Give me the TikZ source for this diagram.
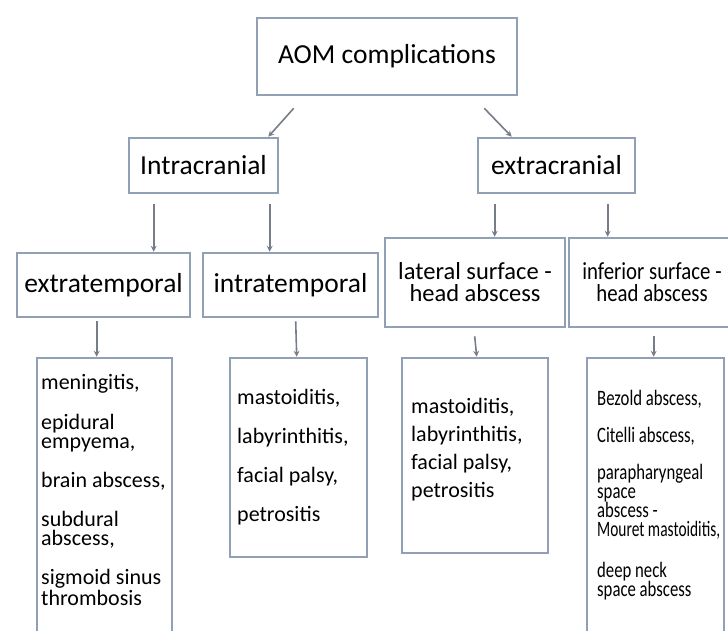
\documentclass[tikz,border=0pt]{standalone}
\usepackage{fontspec}
\setmainfont{Carlito}
\newfontfamily\narrowfont[FakeStretch=0.85]{Carlito}
\newfontfamily\slimfont[FakeStretch=0.76]{Carlito}
\newfontfamily\tightfont[FakeStretch=0.7]{Carlito}

\definecolor{boxline}{RGB}{146,160,182}
\definecolor{arrowline}{RGB}{118,124,136}

\begin{document}
\begin{tikzpicture}[x=1pt, y=-1pt,
    box/.style={draw=boxline, line width=2.6pt, fill=white, inner sep=0pt, align=center},
    arr/.style={->, >=stealth, draw=arrowline, line width=1.6pt},
    big/.style={font=\fontsize{27.5}{30}\selectfont},
    listtext/.style={anchor=base west, inner sep=0pt, align=left, font=\fontsize{22}{19}\selectfont}]
    \useasboundingbox (0,0) rectangle (728,630);
    % top of the tree
    \node[box, big, minimum width=260pt, minimum height=77pt] (aom) at (387,56.5) {AOM complications};
    \node[box, big, minimum width=149pt, minimum height=55pt] (intra) at (203.5,165.5) {Intracranial};
    \node[box, big, minimum width=157pt, minimum height=55pt] (extra) at (556.5,165.5) {extracranial};
    % third row
    \node[box, big, minimum width=173pt, minimum height=64pt] (extemp) at (103.5,285) {extratemporal};
    \node[box, big, minimum width=175pt, minimum height=64pt] (intemp) at (290.5,285) {\raisebox{3pt}{intratemporal}};
    \node[box, font=\fontsize{24.5}{22}\selectfont, minimum width=180pt, minimum height=89pt] (lateral) at (475,282.5) {lateral surface -\\head abscess};
    \node[box, font=\narrowfont\fontsize{24.5}{22}\selectfont, minimum width=166pt, minimum height=89pt] (inferior) at (652,282.5) {inferior surface -\\head abscess};
    % lists (base anchor sits on the last line)
    \node[box, minimum width=135pt, minimum height=292pt] (menbox) at (104.5,504) {};
    \node[box, minimum width=137pt, minimum height=199pt] (mastbox) at (298.5,457.5) {};
    \node[box, minimum width=146pt, minimum height=195pt] (latbox) at (475,455.5) {};
    \node[box, minimum width=137pt, minimum height=292pt] (infbox) at (655.5,504) {};
    \node[listtext] (menlist) at (41,605) {meningitis,\\[20pt]epidural\\empyema,\\[20pt]brain abscess,\\[20pt]subdural\\abscess,\\[20pt]sigmoid sinus\\thrombosis};
    \node[listtext] (mastlist) at (237,521) {mastoiditis,\\[20pt]labyrinthitis,\\[20pt]facial palsy,\\[20pt]petrositis};
    \node[listtext] (latlist) at (411,497) {mastoiditis,\\[9pt]labyrinthitis,\\[9pt]facial palsy,\\[9pt]petrositis};
    \node[listtext, font=\slimfont\fontsize{22}{19}\selectfont] (inflist) at (597,596) {Bezold abscess,\\[18pt]Citelli abscess,\\[18pt]parapharyngeal\\space\\abscess -\\{\tightfont Mouret mastoiditis,}\\[22pt]deep neck\\space abscess};
    % connectors
    \draw[arr] ([xshift=38pt,yshift=-12pt]aom.south west) -- ([xshift=-11pt]intra.north east);
    \draw[arr] ([xshift=-34pt,yshift=-12pt]aom.south east) -- ([xshift=35pt]extra.north west);
    \draw[arr] ([xshift=26pt,yshift=-10pt]intra.south west) -- ([xshift=138pt]extemp.north west);
    \draw[arr] ([xshift=142pt,yshift=-10pt]intra.south west) -- ([xshift=68pt]intemp.north west);
    \draw[arr] ([xshift=18pt,yshift=-10pt]extra.south west) -- ([xshift=111pt]lateral.north west);
    \draw[arr] ([xshift=131pt,yshift=-10pt]extra.south west) -- ([xshift=40pt]inferior.north west);
    \draw[arr] ([xshift=81pt,yshift=-3pt]extemp.south west) -- ([xshift=61pt]menbox.north west);
    \draw[arr] ([xshift=94pt,yshift=-3pt]intemp.south west) -- ([xshift=68pt]mastbox.north west);
    \draw[arr] ([xshift=91pt,yshift=-8pt]lateral.south west) -- ([xshift=76pt]latbox.north west);
    \draw[arr] ([xshift=86pt,yshift=-8pt]inferior.south west) -- ([xshift=68pt]infbox.north west);
\end{tikzpicture}
\end{document}
